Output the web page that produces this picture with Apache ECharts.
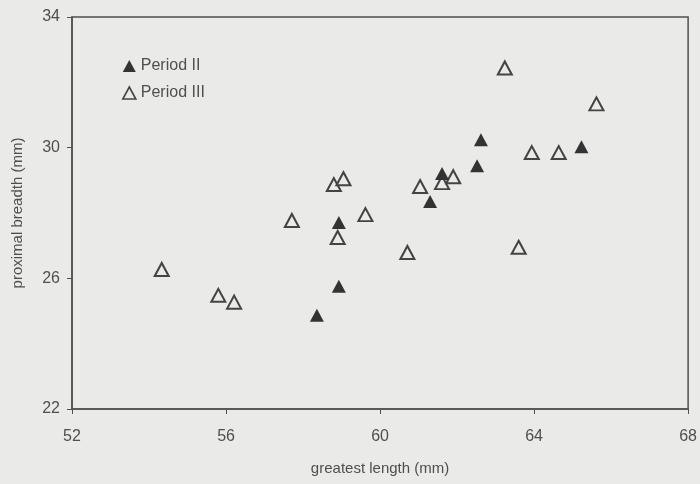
<!DOCTYPE html>
<html>
<head>
<meta charset="utf-8">
<script src="https://cdn.jsdelivr.net/npm/echarts@6/dist/echarts.min.js"></script>
<style>
html,body{margin:0;padding:0;background:#eaeae8;}
#c{width:700px;height:484px;}
</style>
</head>
<body>
<div id="c"></div>
<script>
const period2X = [58.36, 58.93, 58.93, 61.30, 61.61, 62.52, 62.62, 65.23];
const period2Y = [24.87, 25.76, 27.71, 28.35, 29.21, 29.45, 30.24, 30.03];
const period3X = [54.33, 55.80, 56.21, 57.71, 58.80, 59.05, 58.90, 59.62, 60.71, 61.04, 61.61, 61.90, 63.24, 63.94, 64.64, 65.62, 63.60];
const period3Y = [26.27, 25.48, 25.27, 27.77, 28.87, 29.05, 27.25, 27.95, 26.79, 28.81, 28.93, 29.11, 32.44, 29.85, 29.85, 31.34, 26.95];
const seriesNames = ['Period II', 'Period III'];
const xTitle = 'greatest length (mm)';
const yTitle = 'proximal breadth (mm)';

const zip = (xs, ys) => xs.map((x, i) => [x, ys[i]]);
const txt = '#4f4f4f';
const chart = echarts.init(document.getElementById('c'), null, {renderer: 'canvas'});
chart.setOption({
  backgroundColor: '#eaeae8',
  animation: false,
  grid: {left: 72, right: 9, top: 17, bottom: 75, show: true, borderColor: '#505050', borderWidth: 1.5, backgroundColor: 'transparent'},
  legend: {
    orient: 'vertical', left: 122, top: 58, itemGap: 11, itemWidth: 13, itemHeight: 12, padding: 0,
    textStyle: {fontFamily: 'Liberation Sans', fontSize: 16, color: txt},
    data: [
      {name: seriesNames[0], icon: 'triangle', itemStyle: {color: '#333', borderWidth: 0}},
      {name: seriesNames[1], icon: 'triangle', itemStyle: {color: '#eaeae8', borderColor: '#444', borderWidth: 1.6}}
    ]
  },
  xAxis: {
    type: 'value', min: 52, max: 68, interval: 4,
    name: xTitle, nameLocation: 'middle', nameGap: 52,
    nameTextStyle: {fontFamily: 'Liberation Sans', fontSize: 15, color: txt},
    axisLine: {show: true, lineStyle: {color: '#505050', width: 1.5}},
    axisTick: {show: true, length: 5, lineStyle: {color: '#505050'}},
    axisLabel: {fontFamily: 'Liberation Sans', fontSize: 16, color: txt, margin: 20},
    splitLine: {show: false}
  },
  yAxis: {
    type: 'value', min: 22, max: 34, interval: 4,
    name: yTitle, nameLocation: 'middle', nameGap: 47, nameRotate: 90,
    nameTextStyle: {fontFamily: 'Liberation Sans', fontSize: 15, color: txt},
    axisLine: {show: true, lineStyle: {color: '#505050', width: 1.5}},
    axisTick: {show: true, length: 5, lineStyle: {color: '#505050'}},
    axisLabel: {fontFamily: 'Liberation Sans', fontSize: 16, color: txt, margin: 12},
    splitLine: {show: false}
  },
  series: [
    {
      name: seriesNames[0], type: 'scatter', symbol: 'triangle', symbolSize: [14, 13],
      itemStyle: {color: '#333', opacity: 1},
      data: zip(period2X, period2Y), z: 3
    },
    {
      name: seriesNames[1], type: 'scatter', symbol: 'triangle', symbolSize: [14, 13],
      itemStyle: {color: '#eaeae8', borderColor: '#444', borderWidth: 2, opacity: 1},
      data: zip(period3X, period3Y), z: 2
    }
  ]
});
</script>
</body>
</html>
